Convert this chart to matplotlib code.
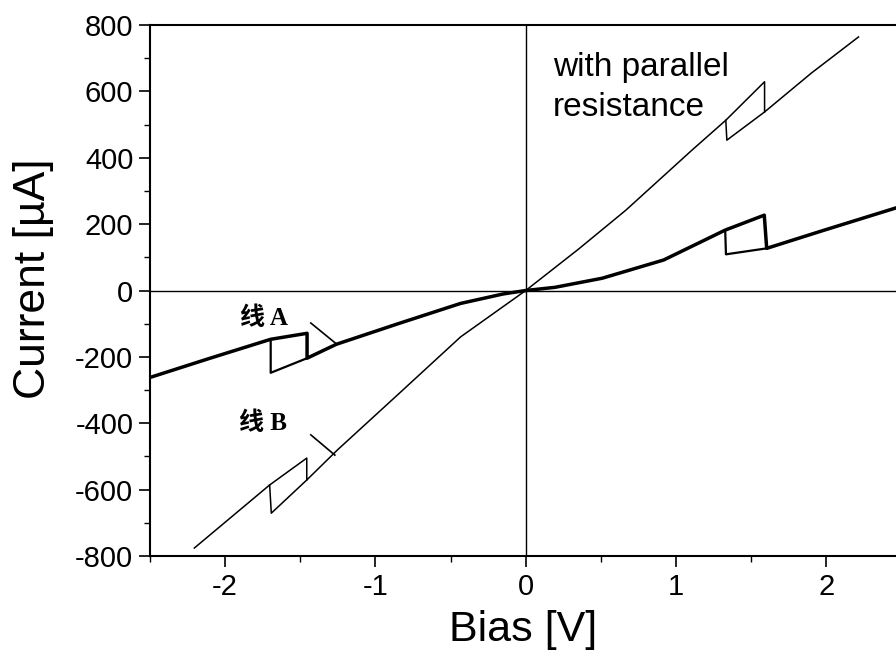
import numpy as np
import matplotlib
matplotlib.use('Agg')
import matplotlib.pyplot as plt
from matplotlib.ticker import MultipleLocator

plt.rcParams['font.family'] = ['Liberation Sans', 'DejaVu Sans']
plt.rcParams['axes.unicode_minus'] = False

# line A (no parallel resistance) - forward sweep
a_bias = [-2.5, -2.10, -1.697, -1.455, -1.455, -1.26, -0.842, -0.434, -0.151, 0.0,
          0.195, 0.509, 0.918, 1.327, 1.587, 1.603, 1.987, 2.5]
a_curr = [-262, -204, -147, -129, -204, -162, -99, -39, -10.5, 0,
          9.6, 37, 92, 182, 227, 127, 182, 254]
# line A - switching jumps on the other sweep
a_neg_bias = [-1.455, -1.697, -1.697]
a_neg_curr = [-204, -248, -147]
a_pos_bias = [1.603, 1.332, 1.327]
a_pos_curr = [127, 109, 182]

# line B (with parallel resistance) - forward sweep
b_bias = [-2.205, -1.704, -1.457, -1.457, -1.252, -0.842, -0.434, 0.0,
          0.352, 0.666, 1.106, 1.331, 1.589, 1.589, 1.9, 2.214]
b_curr = [-776, -586, -505, -571, -480, -310, -140, 0,
          125, 242, 423, 513, 629, 538, 655, 764]
b_neg_bias = [-1.457, -1.693, -1.704]
b_neg_curr = [-571, -671, -586]
b_pos_bias = [1.589, 1.338, 1.331]
b_pos_curr = [538, 453, 513]

# pointer marks next to the labels
ptr_a_bias = [-1.43, -1.265]
ptr_a_curr = [-98, -159]
ptr_b_bias = [-1.43, -1.27]
ptr_b_curr = [-435, -496]

fig = plt.figure(figsize=(8.96, 6.56), dpi=100)
ax = fig.add_axes([150/896, 100/656, 751.5/896, 531/656])

ax.axhline(0, color='black', lw=1.0)
ax.axvline(0, color='black', lw=1.0)

ax.plot(a_bias, a_curr, color='black', lw=2.5, solid_joinstyle='round')
ax.plot(a_neg_bias, a_neg_curr, color='black', lw=1.6)
ax.plot(a_pos_bias, a_pos_curr, color='black', lw=1.6)

ax.plot(b_bias, b_curr, color='black', lw=1.1, solid_joinstyle='round')
ax.plot(b_neg_bias, b_neg_curr, color='black', lw=1.1)
ax.plot(b_pos_bias, b_pos_curr, color='black', lw=1.1)

ax.plot(ptr_a_bias, ptr_a_curr, color='black', lw=1.2)
ax.plot(ptr_b_bias, ptr_b_curr, color='black', lw=1.2)

lab_font = ['Liberation Serif', 'Noto Sans CJK SC']
ax.text(-1.744, -83, '线 A', fontsize=18, fontweight='bold', family=lab_font,
        ha='center', va='center')
ax.text(-1.75, -400, '线 B', fontsize=18, fontweight='bold', family=lab_font,
        ha='center', va='center')
ax.text(0.18, 612, 'with parallel\nresistance', fontsize=24, ha='left',
        va='center', linespacing=1.4)

ax.set_xlim(-2.5, 2.5)
ax.set_ylim(-800, 800)
ax.xaxis.set_major_locator(MultipleLocator(1))
ax.xaxis.set_minor_locator(MultipleLocator(0.5))
ax.yaxis.set_major_locator(MultipleLocator(200))
ax.yaxis.set_minor_locator(MultipleLocator(100))
ax.tick_params(which='major', direction='out', length=8, width=1.2,
               labelsize=21, pad=4)
ax.tick_params(which='minor', direction='out', length=4.5, width=1.0)
ax.tick_params(top=False, right=False, which='both')
for s in ax.spines.values():
    s.set_linewidth(1.5)

ax.set_xlabel('Bias [V]', fontsize=31)
ax.set_ylabel('Current [µA]', fontsize=32)
ax.xaxis.set_label_coords(0.497, -0.14, transform=ax.transAxes)
ax.yaxis.set_label_coords(-0.155, 0.523, transform=ax.transAxes)
ax.xaxis.label.set_va('center')
ax.yaxis.label.set_va('center')

fig.savefig('out.png', dpi=100)
